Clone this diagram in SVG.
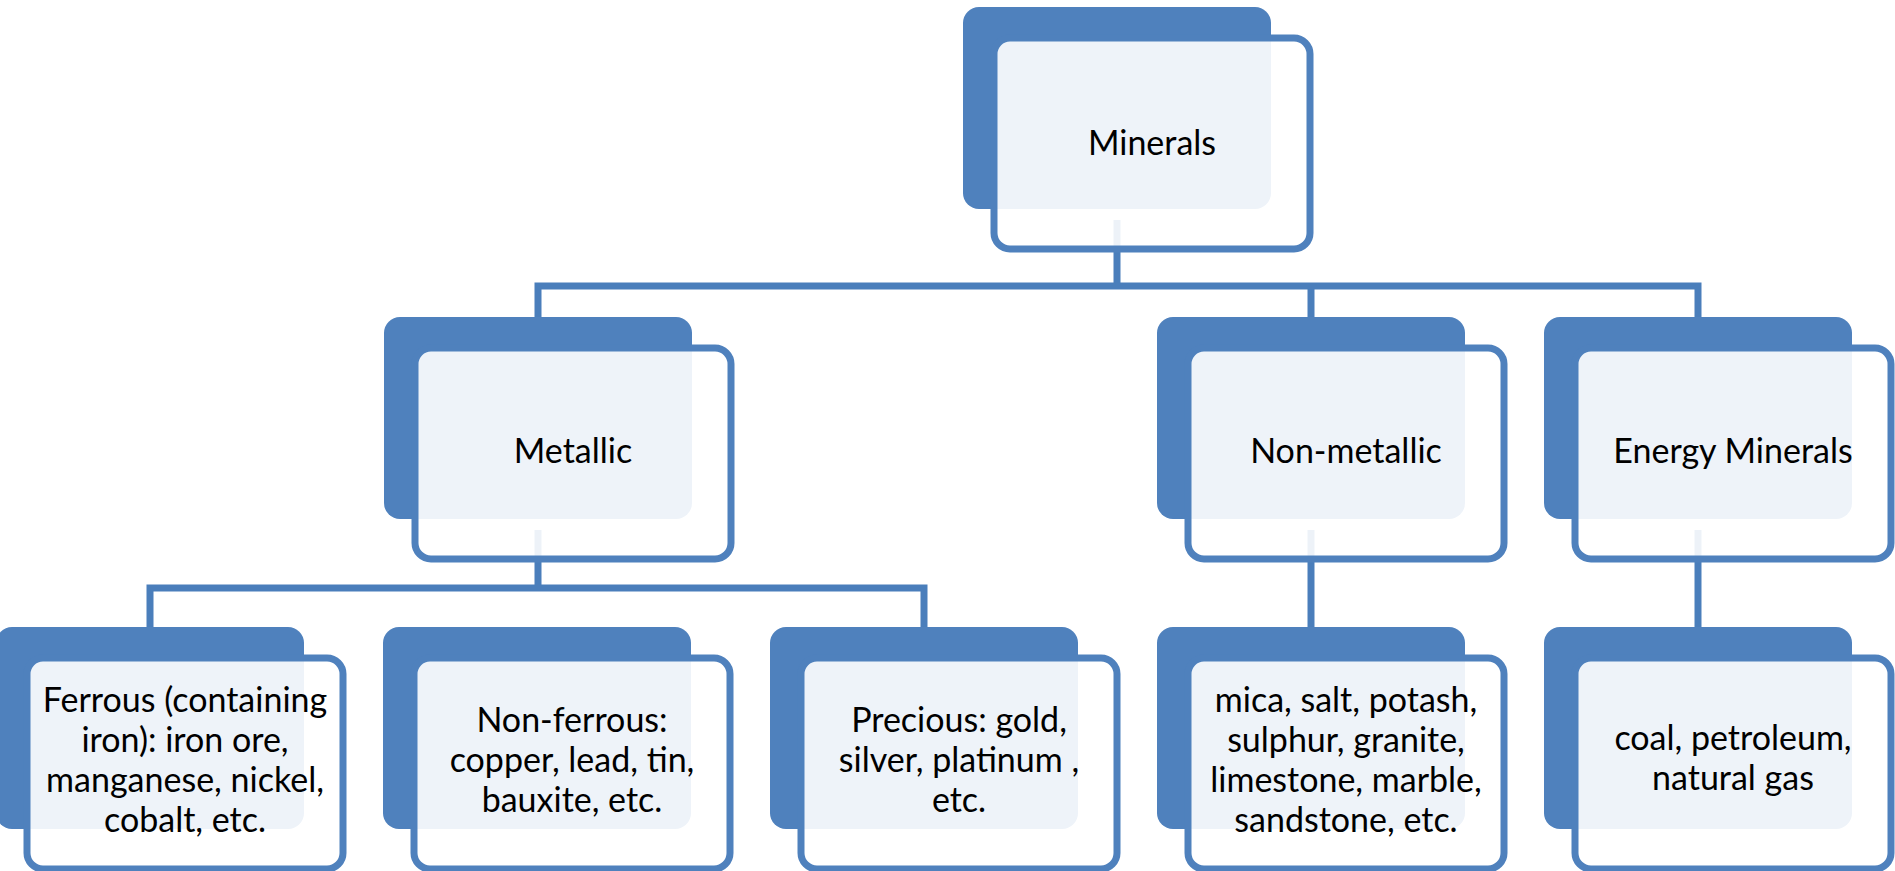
<svg xmlns="http://www.w3.org/2000/svg" width="1895" height="871" viewBox="0 0 1895 871">
  <style>
    .back { fill: #4F81BD; }
    .front { fill: #FFFFFF; fill-opacity: 0.9; stroke: #4F81BD; stroke-width: 7; }
    .conn { fill: none; stroke: #4A7EBB; stroke-width: 7; stroke-linejoin: miter; stroke-linecap: butt; }
    .lbl { font-family: Lato, "Liberation Sans", sans-serif; font-size: 34px; fill: #000000; text-anchor: middle; }
  </style>
  <rect x="0" y="0" width="1895" height="871" fill="#FFFFFF"/>
  <g id="connectors">
    <path class="conn" d="M538,317 V286 H1698 V317 M1117,220 V286 M1311,286 V317"/>
    <path class="conn" d="M538,530 V588 M150,627 V588 H924 V627"/>
    <path class="conn" d="M1311,530 V627"/>
    <path class="conn" d="M1698,530 V627"/>
  </g>
  <g id="node-minerals">
    <rect class="back" x="963" y="7" width="308" height="202" rx="16"/>
    <rect class="front" x="994" y="38" width="316" height="211" rx="16"/>
    <text class="lbl" x="1152" y="155">Minerals</text>
  </g>
  <g id="node-metallic">
    <rect class="back" x="384" y="317" width="308" height="202" rx="16"/>
    <rect class="front" x="415" y="348" width="316" height="211" rx="16"/>
    <text class="lbl" x="573" y="463">Metallic</text>
  </g>
  <g id="node-nonmetallic">
    <rect class="back" x="1157" y="317" width="308" height="202" rx="16"/>
    <rect class="front" x="1188" y="348" width="316" height="211" rx="16"/>
    <text class="lbl" x="1346" y="463">Non-metallic</text>
  </g>
  <g id="node-energy">
    <rect class="back" x="1544" y="317" width="308" height="202" rx="16"/>
    <rect class="front" x="1575" y="348" width="316" height="211" rx="16"/>
    <text class="lbl" x="1733" y="463">Energy Minerals</text>
  </g>
  <g id="node-ferrous">
    <rect class="back" x="-4" y="627" width="308" height="202" rx="16"/>
    <rect class="front" x="27" y="658" width="316" height="211" rx="16"/>
    <text class="lbl" x="185" y="712">Ferrous (containing</text>
    <text class="lbl" x="185" y="752">iron): iron ore,</text>
    <text class="lbl" x="185" y="792">manganese, nickel,</text>
    <text class="lbl" x="185" y="832">cobalt, etc.</text>
  </g>
  <g id="node-nonferrous">
    <rect class="back" x="383" y="627" width="308" height="202" rx="16"/>
    <rect class="front" x="414" y="658" width="316" height="211" rx="16"/>
    <text class="lbl" x="572" y="732">Non-ferrous:</text>
    <text class="lbl" x="572" y="772">copper, lead, tin,</text>
    <text class="lbl" x="572" y="812">bauxite, etc.</text>
  </g>
  <g id="node-precious">
    <rect class="back" x="770" y="627" width="308" height="202" rx="16"/>
    <rect class="front" x="801" y="658" width="316" height="211" rx="16"/>
    <text class="lbl" x="959" y="732">Precious: gold,</text>
    <text class="lbl" x="959" y="772">silver, platinum ,</text>
    <text class="lbl" x="959" y="812">etc.</text>
  </g>
  <g id="node-nonmetallic-list">
    <rect class="back" x="1157" y="627" width="308" height="202" rx="16"/>
    <rect class="front" x="1188" y="658" width="316" height="211" rx="16"/>
    <text class="lbl" x="1346" y="712">mica, salt, potash,</text>
    <text class="lbl" x="1346" y="752">sulphur, granite,</text>
    <text class="lbl" x="1346" y="792">limestone, marble,</text>
    <text class="lbl" x="1346" y="832">sandstone, etc.</text>
  </g>
  <g id="node-energy-list">
    <rect class="back" x="1544" y="627" width="308" height="202" rx="16"/>
    <rect class="front" x="1575" y="658" width="316" height="211" rx="16"/>
    <text class="lbl" x="1733" y="750">coal, petroleum,</text>
    <text class="lbl" x="1733" y="790">natural gas</text>
  </g>
</svg>
